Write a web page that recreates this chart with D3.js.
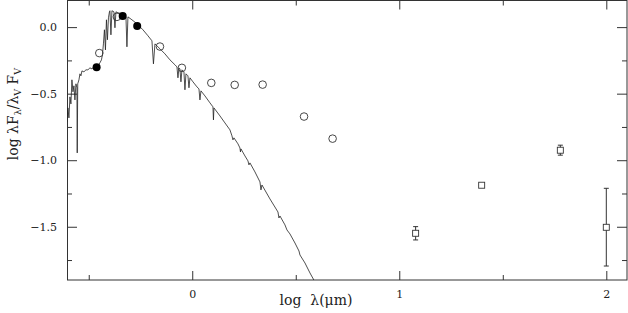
<!DOCTYPE html>
<html><head><meta charset="utf-8">
<script src="https://cdn.jsdelivr.net/npm/d3@7"></script>
<style>body{margin:0;background:#fff}svg{display:block}text{font-family:"DejaVu Serif",serif;fill:#222}</style>
</head><body><svg id="c" width="628" height="313"></svg>
<script>
// Model spectrum: [log lambda (um), log lambdaF_lambda / lambda_V F_V]
const spectrum = [
[-0.6053,-0.712],[-0.6005,-0.607],[-0.5957,-0.682],[-0.5908,-0.524],[-0.5860,-0.577],[-0.5812,-0.396],
[-0.5763,-0.486],[-0.5715,-0.441],[-0.5667,-0.547],[-0.5618,-0.426],[-0.5570,-0.456],[-0.5556,-0.945],
[-0.5531,-0.426],[-0.5473,-0.396],[-0.5425,-0.351],[-0.5377,-0.366],[-0.5329,-0.329],[-0.5232,-0.336],
[-0.5135,-0.321],[-0.5039,-0.321],[-0.4942,-0.306],[-0.4845,-0.314],[-0.4701,-0.291],[-0.4556,-0.291],
[-0.4459,-0.268],[-0.4386,-0.246],[-0.4338,-0.208],[-0.4290,-0.126],[-0.4242,-0.020],[-0.4193,-0.171],
[-0.4145,0.055],[-0.4097,-0.095],[-0.4048,0.070],[-0.4000,0.115],[-0.3976,0.123],[-0.3928,-0.058],
[-0.3879,0.123],[-0.3783,0.115],[-0.3734,-0.005],[-0.3686,0.115],[-0.3589,0.108],[-0.3396,0.100],
[-0.3203,0.077],[-0.3155,-0.148],[-0.3106,0.077],[-0.2913,0.055],[-0.2671,0.025],[-0.2382,-0.020],
[-0.2140,-0.065],[-0.1947,-0.103],[-0.1874,-0.276],[-0.1802,-0.126],[-0.1560,-0.163],[-0.1319,-0.201],
[-0.1077,-0.246],[-0.0836,-0.283],[-0.0739,-0.299],[-0.0691,-0.381],[-0.0643,-0.306],[-0.0594,-0.314],
[-0.0546,-0.411],[-0.0498,-0.321],[-0.0401,-0.336],[-0.0353,-0.471],[-0.0304,-0.351],[-0.0208,-0.366],
[-0.0159,-0.456],[-0.0111,-0.381],[0.0034,-0.411],[0.0227,-0.449],[0.0324,-0.464],[0.0372,-0.547],
[0.0420,-0.479],[0.0614,-0.517],[0.0855,-0.569],[0.1000,-0.599],[0.1024,-0.697],[0.1048,-0.607],
[0.1338,-0.667],[0.1580,-0.720],[0.1821,-0.772],[0.1918,-0.817],[0.1966,-0.847],[0.2014,-0.832],
[0.2208,-0.877],[0.2304,-0.908],[0.2329,-0.938],[0.2353,-0.915],[0.2546,-0.968],[0.2691,-1.005],
[0.2739,-1.035],[0.2787,-1.020],[0.3029,-1.088],[0.3271,-1.163],[0.3319,-1.223],[0.3367,-1.186],
[0.3754,-1.291],[0.4140,-1.389],[0.4188,-1.434],[0.4237,-1.419],[0.4478,-1.486],[0.4575,-1.524],
[0.4720,-1.554],[0.4961,-1.622],[0.5155,-1.682],[0.5203,-1.712],[0.5444,-1.772],[0.5686,-1.847],[0.5928,-1.915]
];
// Photometry (filled circles)
const filledX = [-0.462,-0.336,-0.266];
const filledY = [-0.301,0.083,0.008];
// Photometry (open circles)
const openX = [-0.449,-0.364,-0.156,-0.050,0.092,0.205,0.340,0.540,0.678];
const openY = [-0.195,0.077,-0.146,-0.306,-0.419,-0.434,-0.432,-0.672,-0.838];
// IRAS points (squares) with error bars
const sqX = [1.079,1.398,1.778,2.0];
const sqY = [-1.549,-1.188,-0.925,-1.504];
const sqLo = [-1.599,-1.188,-0.962,-1.795];
const sqHi = [-1.499,-1.188,-0.887,-1.211];
const xMajor = [0,1,2], xMinor = [-0.5,0.5,1.5];
const yMajor = [0,-0.5,-1.0,-1.5], yMinor = [-0.25,-0.75,-1.25,-1.75];

const L=67,R=627,T=0.5,B=280;
const svg=d3.select("#c");
const x=d3.scaleLinear().domain([-0.605,2.1]).range([L,R]);
const y=d3.scaleLinear().domain([-1.9,0.2]).range([B,T]);
const col="#333";

const defs=svg.append("defs");
defs.append("clipPath").attr("id","clip").append("rect").attr("x",L).attr("y",0).attr("width",R-L).attr("height",B);

function ax(gen,tx,ty,vals,size,fmt,pad){
  const g=svg.append("g").attr("transform",`translate(${tx},${ty})`)
    .call(gen.tickValues(vals).tickSize(-size).tickPadding(pad).tickFormat(fmt));
  g.select(".domain").remove();
  g.selectAll("line").attr("stroke",col);
  g.selectAll("text").attr("font-size","11px").attr("fill","#222");
  return g;
}
const none=()=>"";
ax(d3.axisBottom(x),0,B,xMajor,9,d3.format("d"),10);
ax(d3.axisBottom(x),0,B,xMinor,5,none,3);
ax(d3.axisTop(x),0,T,xMajor,9,none,3);
ax(d3.axisTop(x),0,T,xMinor,5,none,3);
ax(d3.axisLeft(y),L,0,yMajor,10,d3.format(".1f"),10);
ax(d3.axisLeft(y),L,0,yMinor,5,none,3);
ax(d3.axisRight(y),R,0,yMajor,10,none,3);
ax(d3.axisRight(y),R,0,yMinor,5,none,3);

svg.append("rect").attr("x",L+0.5).attr("y",T).attr("width",R-L-0.5).attr("height",B-T)
  .attr("fill","none").attr("stroke",col).attr("stroke-width",1);

const plot=svg.append("g").attr("clip-path","url(#clip)");
plot.append("path").datum(spectrum)
  .attr("d",d3.line().x(d=>x(d[0])).y(d=>y(d[1])))
  .attr("fill","none").attr("stroke","#222").attr("stroke-width",0.8);

plot.selectAll(".oc").data(openX).join("circle")
  .attr("cx",d=>x(d)).attr("cy",(d,i)=>y(openY[i])).attr("r",3.8)
  .attr("fill","none").attr("stroke",col).attr("stroke-width",0.9);
plot.selectAll(".fc").data(filledX).join("circle")
  .attr("cx",d=>x(d)).attr("cy",(d,i)=>y(filledY[i])).attr("r",4)
  .attr("fill","#000");

sqX.forEach((v,i)=>{
  const cx=x(v);
  if(sqHi[i]!==sqLo[i]){
    const y1=y(sqHi[i]),y2=y(sqLo[i]);
    plot.append("line").attr("x1",cx).attr("x2",cx).attr("y1",y1).attr("y2",y2).attr("stroke",col);
    [y1,y2].forEach(yy=>plot.append("line").attr("x1",cx-2.5).attr("x2",cx+2.5).attr("y1",yy).attr("y2",yy).attr("stroke",col));
  }
  plot.append("rect").attr("x",cx-3).attr("y",y(sqY[i])-3).attr("width",6).attr("height",6)
    .attr("fill","#fff").attr("stroke",col).attr("stroke-width",0.9);
});

svg.append("text").attr("x",316).attr("y",305).attr("text-anchor","middle").attr("font-size","14px")
  .attr("xml:space","preserve").text("log  λ(μm)");

const yl=svg.append("text").attr("transform","translate(18,114) rotate(-90)").attr("text-anchor","middle").attr("font-size","14px");
yl.append("tspan").text("log λF");
yl.append("tspan").attr("font-size","9.5px").attr("dy","3").text("λ");
yl.append("tspan").attr("dy","-3").text("/λ");
yl.append("tspan").attr("font-size","9.5px").attr("dy","3").text("V");
yl.append("tspan").attr("dy","-3").text(" F");
yl.append("tspan").attr("font-size","9.5px").attr("dy","3").text("V");
</script></body></html>
